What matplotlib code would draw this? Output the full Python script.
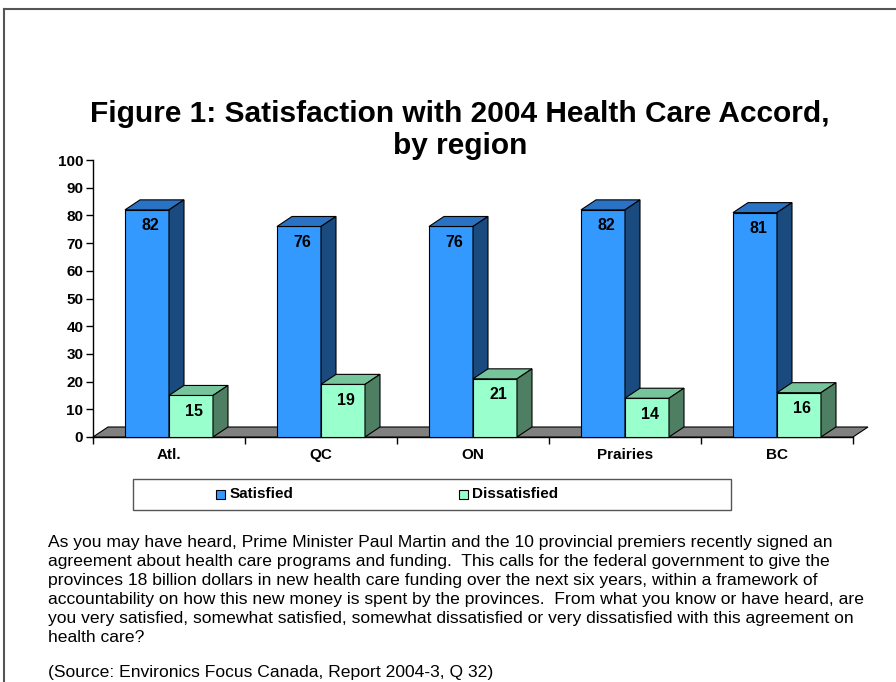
import matplotlib
matplotlib.use("Agg")
import matplotlib.pyplot as plt
from matplotlib.patches import Polygon, Rectangle
from matplotlib.lines import Line2D

# Data
regions = ["Atl.", "QC", "ON", "Prairies", "BC"]
satisfied = [82, 76, 76, 82, 81]
dissatisfied = [15, 19, 21, 14, 16]
series_names = ["Satisfied", "Dissatisfied"]

TITLE = "Figure 1: Satisfaction with 2004 Health Care Accord,\nby region"
NOTE = (
    "As you may have heard, Prime Minister Paul Martin and the 10 provincial premiers recently signed an\n"
    "agreement about health care programs and funding.  This calls for the federal government to give the\n"
    "provinces 18 billion dollars in new health care funding over the next six years, within a framework of\n"
    "accountability on how this new money is spent by the provinces.  From what you know or have heard, are\n"
    "you very satisfied, somewhat satisfied, somewhat dissatisfied or very dissatisfied with this agreement on\n"
    "health care?"
)
SOURCE = "(Source: Environics Focus Canada, Report 2004-3, Q 32)"

# Style
FONT = ["Liberation Sans", "DejaVu Sans"]
plt.rcParams["font.family"] = FONT
SAT = ("#3399ff", "#2a72c4", "#1b4b7e")   # front, top, side
DIS = ("#99ffcc", "#76c49c", "#4e7f62")
FLOOR = "#808080"

W, H = 896, 682
fig = plt.figure(figsize=(W / 100, H / 100), dpi=100)

# page frame
fig.add_artist(Line2D([4 / W, 4 / W], [0, 1 - 9 / H], color="#555555", lw=1.5))
fig.add_artist(Line2D([4 / W, 1], [1 - 9 / H, 1 - 9 / H], color="#555555", lw=1.5))

ax = fig.add_axes([93 / W, 1 - 437 / H, (853 - 93) / W, (437 - 160) / H])
ax.set_xlim(0, 5)
ax.set_ylim(0, 100)

DX = 15 / 152          # depth in category units
DY = 10 / 2.77         # depth in value units
GAP = 32 / 152
BW = 44 / 152

# floor
ax.add_patch(Polygon([(0, 0), (5, 0), (5 + DX, DY), (DX, DY)], closed=True,
                     facecolor=FLOOR, edgecolor="black", lw=0.8, clip_on=False, zorder=1))


def bar3d(x0, h, cols):
    x1 = x0 + BW
    ax.add_patch(Polygon([(x0, 0), (x1, 0), (x1, h), (x0, h)], closed=True,
                         facecolor=cols[0], edgecolor="black", lw=0.8, clip_on=False, zorder=3))
    ax.add_patch(Polygon([(x0, h), (x1, h), (x1 + DX, h + DY), (x0 + DX, h + DY)], closed=True,
                         facecolor=cols[1], edgecolor="black", lw=0.8, clip_on=False, zorder=3))
    ax.add_patch(Polygon([(x1, 0), (x1 + DX, DY), (x1 + DX, h + DY), (x1, h)], closed=True,
                         facecolor=cols[2], edgecolor="black", lw=0.8, clip_on=False, zorder=3))
    ax.annotate(f"{h}", xy=((x0 + x1) / 2, h), xytext=(3, -16), textcoords="offset pixels",
                ha="center", va="center", fontsize=11.5, fontweight="bold", zorder=5)


for i in range(len(regions)):
    bar3d(i + GAP, satisfied[i], SAT)
    bar3d(i + GAP + BW, dissatisfied[i], DIS)

# axes styling
for s in ["top", "right"]:
    ax.spines[s].set_visible(False)
ax.spines["left"].set_linewidth(1)
ax.spines["bottom"].set_linewidth(1)
ax.spines["bottom"].set_zorder(0)
ax.set_yticks(range(0, 101, 10))
ax.set_yticklabels([str(v) for v in range(0, 101, 10)], fontsize=11, fontweight="bold")
ax.tick_params(axis="y", direction="out", length=5, width=1, pad=2)
ax.set_xticks(range(0, 6))
ax.set_xticklabels([])
ax.set_xticks([i + 0.5 for i in range(len(regions))], minor=True)
ax.set_xticklabels(regions, minor=True, fontsize=11, fontweight="bold")
for lbl in ax.get_xticklabels(minor=True):
    lbl.set_va("center_baseline")
ax.tick_params(axis="x", which="major", direction="out", length=5, width=1)
ax.tick_params(axis="x", which="minor", length=0, pad=12)
ax.patch.set_visible(False)

# title
fig.text(460 / W, 1 - 130 / H, TITLE, ha="center", va="center", fontsize=21.5,
         fontweight="bold", linespacing=1.15)

# legend box
fig.add_artist(Rectangle((133 / W, 1 - 510 / H), (731 - 133) / W, 31 / H, transform=fig.transFigure,
                         facecolor="white", edgecolor="#555555", lw=1))
for (mx, tx), name, cols in zip([(216, 230), (459, 472)], series_names, [SAT, DIS]):
    fig.add_artist(Rectangle((mx / W, 1 - 499 / H), 9 / W, 9 / H, transform=fig.transFigure,
                             facecolor=cols[0], edgecolor="black", lw=0.8))
    fig.text(tx / W, 1 - 494.5 / H, name, ha="left", va="center", fontsize=11, fontweight="bold")

# note
fig.text(48 / W, 1 - 535 / H, NOTE, ha="left", va="top", fontsize=12.6, linespacing=1.34)
fig.text(48 / W, 1 - 672 / H, SOURCE, ha="left", va="center", fontsize=12.6)

fig.savefig("out.png", dpi=100, facecolor="white")
